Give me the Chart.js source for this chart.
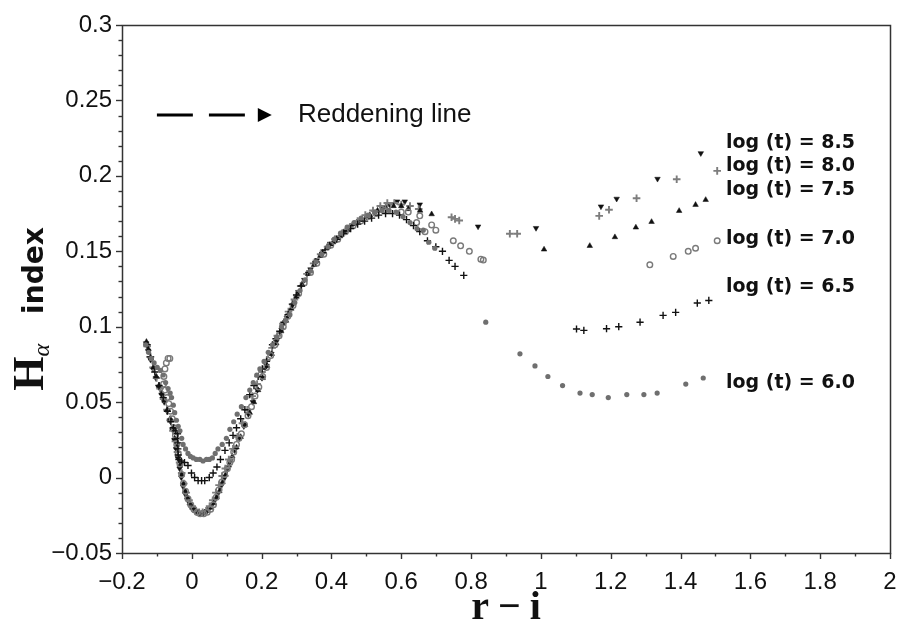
<!DOCTYPE html>
<html><head><meta charset="utf-8">
<script src="https://cdn.jsdelivr.net/npm/chart.js@4.4.1/dist/chart.umd.min.js"></script>
<style>html,body{margin:0;padding:0;background:#fff}#wrap{width:901px;height:628px}</style>
</head><body><div id="wrap"><canvas id="c" width="901" height="628"></canvas></div>
<script>
// ---------- tick labels ----------
const xTickValues=[-0.2,0,0.2,0.4,0.6,0.8,1,1.2,1.4,1.6,1.8,2];
const xTickLabels=['−0.2','0','0.2','0.4','0.6','0.8','1','1.2','1.4','1.6','1.8','2'];
const yTickValues=[-0.05,0,0.05,0.1,0.15,0.2,0.25,0.3];
const yTickLabels=['−0.05','0','0.05','0.1','0.15','0.2','0.25','0.3'];
const xTitle='r − i';
const seriesNames=['log (t) = 6.0','log (t) = 6.5','log (t) = 7.0','log (t) = 7.5','log (t) = 8.0','log (t) = 8.5'];
const reddeningText='Reddening line';

// ---------- series values [r-i, Halpha index] ----------
const logt60=[[-0.132,0.088],[-0.124,0.083],[-0.116,0.079],[-0.108,0.076],[-0.099,0.073],[-0.090,0.071],[-0.082,0.068],[-0.075,0.063],[-0.068,0.059],[-0.062,0.056],[-0.058,0.053],[-0.053,0.048],[-0.049,0.043],[-0.044,0.038],[-0.039,0.034],[-0.034,0.031],[-0.029,0.026],[-0.025,0.022],[-0.018,0.019],[-0.011,0.016],[-0.004,0.014],[0.004,0.013],[0.013,0.012],[0.023,0.012],[0.032,0.011],[0.042,0.012],[0.050,0.012],[0.059,0.013],[0.067,0.016],[0.075,0.019],[0.087,0.022],[0.099,0.026],[0.109,0.032],[0.120,0.037],[0.130,0.042],[0.142,0.047],[0.155,0.053],[0.166,0.058],[0.176,0.063],[0.186,0.068],[0.195,0.072],[0.207,0.077],[0.219,0.083],[0.231,0.088],[0.243,0.093],[0.257,0.100],[0.269,0.104],[0.281,0.108],[0.295,0.116],[0.310,0.124],[0.325,0.131],[0.340,0.137],[0.356,0.143],[0.372,0.148],[0.390,0.153],[0.408,0.158],[0.426,0.162],[0.445,0.166],[0.465,0.169],[0.485,0.172],[0.505,0.174],[0.525,0.176],[0.545,0.177],[0.565,0.177],[0.585,0.176],[0.605,0.173],[0.625,0.169],[0.645,0.165],[0.663,0.164],[0.679,0.156],[0.696,0.152],[0.842,0.103],[0.940,0.082],[0.983,0.074],[1.020,0.067],[1.062,0.061],[1.112,0.056],[1.147,0.055],[1.193,0.053],[1.246,0.055],[1.295,0.055],[1.333,0.056],[1.415,0.062],[1.465,0.066]];
const logt65=[[-0.128,0.088],[-0.118,0.080],[-0.106,0.070],[-0.094,0.061],[-0.082,0.053],[-0.070,0.044],[-0.060,0.037],[-0.052,0.033],[-0.046,0.031],[-0.041,0.029],[-0.041,0.026],[-0.040,0.023],[-0.040,0.019],[-0.039,0.015],[-0.037,0.012],[-0.030,0.011],[-0.021,0.010],[-0.011,0.008],[-0.001,0.003],[0.008,0.000],[0.018,-0.002],[0.028,-0.002],[0.037,-0.002],[0.050,0.000],[0.061,0.003],[0.072,0.007],[0.082,0.012],[0.095,0.018],[0.107,0.023],[0.118,0.028],[0.128,0.033],[0.140,0.039],[0.152,0.045],[0.166,0.055],[0.178,0.061],[0.190,0.067],[0.202,0.072],[0.214,0.077],[0.231,0.088],[0.241,0.092],[0.252,0.097],[0.264,0.103],[0.276,0.108],[0.288,0.115],[0.300,0.121],[0.314,0.127],[0.335,0.136],[0.355,0.143],[0.375,0.149],[0.395,0.154],[0.415,0.158],[0.435,0.162],[0.455,0.165],[0.475,0.168],[0.495,0.170],[0.515,0.172],[0.535,0.174],[0.555,0.175],[0.575,0.175],[0.595,0.174],[0.615,0.171],[0.635,0.167],[0.653,0.163],[0.675,0.157],[0.699,0.153],[0.718,0.150],[0.737,0.144],[0.754,0.140],[0.779,0.134],[1.102,0.0985],[1.123,0.0976],[1.188,0.0987],[1.223,0.100],[1.284,0.103],[1.350,0.1075],[1.386,0.1095],[1.448,0.1157],[1.481,0.1174]];
const logt70=[[-0.063,0.079],[-0.068,0.079],[-0.073,0.076],[-0.077,0.072],[-0.080,0.067],[-0.081,0.062],[-0.077,0.058],[-0.071,0.053],[-0.066,0.049],[-0.061,0.044],[-0.056,0.039],[-0.051,0.033],[-0.047,0.028],[-0.043,0.022],[-0.039,0.016],[-0.034,0.009],[-0.029,0.002],[-0.024,-0.004],[-0.018,-0.009],[-0.011,-0.014],[-0.003,-0.018],[0.006,-0.021],[0.015,-0.023],[0.024,-0.024],[0.034,-0.024],[0.044,-0.023],[0.054,-0.021],[0.062,-0.018],[0.070,-0.013],[0.078,-0.008],[0.086,-0.003],[0.094,0.002],[0.102,0.006],[0.109,0.010],[0.114,0.012],[0.120,0.017],[0.128,0.022],[0.135,0.026],[0.142,0.029],[0.151,0.035],[0.161,0.041],[0.171,0.047],[0.181,0.054],[0.192,0.060],[0.203,0.067],[0.214,0.073],[0.226,0.081],[0.238,0.088],[0.250,0.094],[0.262,0.100],[0.275,0.107],[0.290,0.114],[0.306,0.122],[0.322,0.129],[0.340,0.136],[0.358,0.142],[0.378,0.148],[0.398,0.154],[0.418,0.158],[0.440,0.163],[0.462,0.167],[0.484,0.170],[0.506,0.173],[0.528,0.175],[0.550,0.177],[0.562,0.180],[0.600,0.176],[0.620,0.176],[0.644,0.169],[0.653,0.1735],[0.668,0.163],[0.687,0.1675],[0.699,0.164],[0.749,0.157],[0.770,0.1536],[0.795,0.150],[0.828,0.1448],[0.835,0.1442],[1.312,0.141],[1.379,0.1466],[1.422,0.150],[1.443,0.152],[1.505,0.157]];
const logt75=[[-0.130,0.090],[-0.124,0.085],[-0.117,0.079],[-0.110,0.073],[-0.102,0.067],[-0.094,0.061],[-0.086,0.056],[-0.078,0.051],[-0.070,0.045],[-0.062,0.039],[-0.055,0.033],[-0.049,0.026],[-0.044,0.020],[-0.039,0.014],[-0.034,0.008],[-0.029,0.002],[-0.024,-0.004],[-0.019,-0.009],[-0.013,-0.013],[-0.006,-0.017],[0.002,-0.020],[0.010,-0.022],[0.019,-0.023],[0.028,-0.024],[0.037,-0.023],[0.046,-0.022],[0.055,-0.020],[0.063,-0.017],[0.071,-0.013],[0.079,-0.009],[0.088,-0.003],[0.097,0.002],[0.106,0.008],[0.116,0.014],[0.128,0.020],[0.140,0.027],[0.153,0.035],[0.166,0.043],[0.178,0.050],[0.190,0.058],[0.203,0.066],[0.216,0.074],[0.229,0.082],[0.242,0.089],[0.256,0.097],[0.270,0.104],[0.285,0.112],[0.300,0.120],[0.316,0.128],[0.333,0.135],[0.350,0.141],[0.368,0.147],[0.386,0.152],[0.405,0.156],[0.425,0.160],[0.446,0.164],[0.467,0.168],[0.488,0.171],[0.510,0.174],[0.532,0.177],[0.555,0.179],[0.578,0.180],[0.600,0.180],[0.620,0.178],[0.654,0.177],[0.687,0.1746],[1.009,0.1512],[1.140,0.1536],[1.212,0.1594],[1.272,0.1658],[1.317,0.1695],[1.396,0.1768],[1.443,0.1808],[1.472,0.1841]];
const logt80=[[-0.128,0.087],[-0.120,0.080],[-0.111,0.073],[-0.101,0.066],[-0.091,0.059],[-0.081,0.052],[-0.071,0.045],[-0.062,0.038],[-0.054,0.031],[-0.047,0.024],[-0.041,0.017],[-0.035,0.010],[-0.029,0.003],[-0.023,-0.004],[-0.016,-0.010],[-0.008,-0.015],[0.001,-0.019],[0.011,-0.022],[0.021,-0.023],[0.031,-0.023],[0.041,-0.022],[0.051,-0.019],[0.060,-0.015],[0.069,-0.010],[0.078,-0.005],[0.087,0.001],[0.096,0.006],[0.106,0.012],[0.118,0.019],[0.131,0.027],[0.145,0.036],[0.159,0.045],[0.173,0.054],[0.187,0.062],[0.201,0.070],[0.215,0.078],[0.230,0.086],[0.245,0.094],[0.261,0.102],[0.277,0.110],[0.294,0.118],[0.312,0.127],[0.330,0.135],[0.349,0.142],[0.369,0.148],[0.389,0.153],[0.410,0.158],[0.431,0.162],[0.453,0.166],[0.475,0.170],[0.497,0.174],[0.519,0.177],[0.540,0.180],[0.560,0.182],[0.580,0.182],[0.600,0.181],[0.625,0.180],[0.650,0.178],[0.744,0.1726],[0.754,0.1715],[0.766,0.1704],[0.911,0.1616],[0.932,0.1616],[1.167,0.1735],[1.195,0.1775],[1.274,0.1852],[1.389,0.1978],[1.505,0.2033]];
const logt85=[[-0.131,0.089],[-0.125,0.084],[-0.118,0.078],[-0.111,0.072],[-0.103,0.066],[-0.095,0.060],[-0.087,0.055],[-0.079,0.050],[-0.071,0.044],[-0.063,0.038],[-0.056,0.032],[-0.050,0.025],[-0.045,0.019],[-0.040,0.013],[-0.035,0.006],[-0.030,0.000],[-0.025,-0.006],[-0.019,-0.011],[-0.012,-0.015],[-0.004,-0.019],[0.004,-0.021],[0.013,-0.023],[0.022,-0.024],[0.031,-0.024],[0.040,-0.023],[0.049,-0.021],[0.058,-0.018],[0.066,-0.015],[0.074,-0.011],[0.083,-0.006],[0.092,-0.001],[0.101,0.005],[0.111,0.011],[0.123,0.018],[0.136,0.026],[0.149,0.034],[0.162,0.042],[0.175,0.050],[0.188,0.058],[0.201,0.066],[0.214,0.074],[0.228,0.082],[0.242,0.090],[0.257,0.098],[0.272,0.106],[0.288,0.114],[0.305,0.123],[0.322,0.131],[0.340,0.138],[0.358,0.144],[0.377,0.150],[0.396,0.155],[0.416,0.159],[0.437,0.163],[0.458,0.167],[0.479,0.170],[0.500,0.173],[0.522,0.176],[0.544,0.179],[0.566,0.181],[0.588,0.183],[0.610,0.183],[0.653,0.181],[0.820,0.1664],[0.986,0.1654],[1.172,0.1797],[1.217,0.1848],[1.334,0.198],[1.458,0.215]];

// ---------- annotation anchors (data coords) ----------
const labelAnchorX=1.53;
const labelAnchorY=[0.0627,0.1263,0.1581,0.1903,0.2062,0.222];
const reddening={y:0.2404,dashes:[[-0.100,0.003],[0.049,0.152]],arrow:[0.189,0.229],textX:0.304};

const toPts=a=>a.map(p=>({x:p[0],y:p[1]}));
const BLACK='#111111', GREY='#6f6f6f', GREY2='#7d7d7d';

const decor={id:'decor',
  beforeDatasetsDraw(chart){
    const {ctx,chartArea:a,scales:{x,y}}=chart;
    ctx.save();
    ctx.strokeStyle='#333';ctx.lineWidth=1.4;
    for(let i=0;i<=35;i++){
      const v=-0.05+i*0.01, py=Math.round(y.getPixelForValue(v))+0.5, major=(i%5===0);
      ctx.beginPath();ctx.moveTo(a.left-(major?6:3.5),py);ctx.lineTo(a.left,py);ctx.stroke();
    }
    for(let i=0;i<=22;i++){
      const v=-0.2+i*0.1, px=Math.round(x.getPixelForValue(v))+0.5, major=(i%2===0);
      ctx.beginPath();ctx.moveTo(px,a.bottom);ctx.lineTo(px,a.bottom+(major?6:3.5));ctx.stroke();
    }
    ctx.lineWidth=1.5;
    ctx.strokeRect(Math.round(a.left)+0.5,Math.round(a.top)+0.5,Math.round(a.right-a.left),Math.round(a.bottom-a.top));
    ctx.restore();
  },
  afterDraw(chart){
    const {ctx,chartArea:a,scales:{x,y}}=chart;
    ctx.save();
    // reddening legend
    const ry=y.getPixelForValue(reddening.y);
    ctx.strokeStyle='#000';ctx.lineWidth=3;
    reddening.dashes.forEach(d=>{ctx.beginPath();ctx.moveTo(x.getPixelForValue(d[0]),ry);ctx.lineTo(x.getPixelForValue(d[1]),ry);ctx.stroke();});
    const ax0=x.getPixelForValue(reddening.arrow[0]), ax1=x.getPixelForValue(reddening.arrow[1]);
    ctx.fillStyle='#000';ctx.beginPath();ctx.moveTo(ax0,ry-7);ctx.lineTo(ax1,ry);ctx.lineTo(ax0,ry+7);ctx.closePath();ctx.fill();
    ctx.fillStyle='#111';ctx.font='26px "Liberation Sans", Arial, sans-serif';ctx.textAlign='left';ctx.textBaseline='middle';
    ctx.fillText(reddeningText,x.getPixelForValue(reddening.textX),ry);
    // series labels
    ctx.font='bold 19px "DejaVu Sans", sans-serif';
    seriesNames.forEach((n,i)=>ctx.fillText(n,x.getPixelForValue(labelAnchorX),y.getPixelForValue(labelAnchorY[i])));
    // x title
    ctx.textBaseline='alphabetic';
    ctx.font='bold 40px "Liberation Serif", "DejaVu Serif", serif';
    const parts=xTitle.split(' ');
    const gap=9;
    const ws=parts.map(p=>ctx.measureText(p).width);
    const tot=ws.reduce((s,w)=>s+w,0)+gap*(parts.length-1);
    let cx=(a.left+a.right)/2-tot/2;
    parts.forEach((p,i)=>{ctx.fillText(p,cx,619);cx+=ws[i]+gap;});
    // y title
    ctx.translate(43,309);ctx.rotate(-Math.PI/2);
    const fH='bold 44px "Liberation Serif", "DejaVu Serif", serif';
    const fA='italic 24px "Liberation Serif", "DejaVu Serif", serif';
    const fI='bold 28px "DejaVu Sans", sans-serif';
    ctx.font=fH;const wH=ctx.measureText('H').width;
    ctx.font=fA;const wA=ctx.measureText('α').width;
    ctx.font=fI;const wI=ctx.measureText('index').width;
    const g2=30;
    const T=wH+wA+g2+wI;
    let lx=-T/2;
    ctx.font=fH;ctx.fillText('H',lx,0);lx+=wH;
    ctx.font=fA;ctx.fillText('α',lx,6);lx+=wA+g2;
    ctx.font=fI;ctx.fillText('index',lx,0);
    ctx.restore();
  }
};

new Chart(document.getElementById('c'),{
  type:'scatter',
  data:{datasets:[
    {label:seriesNames[0],data:toPts(logt60),pointStyle:'circle',pointRadius:2.6,backgroundColor:GREY,borderColor:GREY,borderWidth:0},
    {label:seriesNames[1],data:toPts(logt65),pointStyle:'cross',pointRadius:3.6,backgroundColor:BLACK,borderColor:BLACK,borderWidth:1.4},
    {label:seriesNames[2],data:toPts(logt70),pointStyle:'circle',pointRadius:2.8,backgroundColor:'rgba(255,255,255,0)',borderColor:'#7a7a7a',borderWidth:1.4},
    {label:seriesNames[3],data:toPts(logt75),pointStyle:'triangle',pointRadius:3.2,backgroundColor:BLACK,borderColor:BLACK,borderWidth:0.5},
    {label:seriesNames[4],data:toPts(logt80),pointStyle:'cross',pointRadius:3.8,backgroundColor:GREY2,borderColor:GREY2,borderWidth:1.9},
    {label:seriesNames[5],data:toPts(logt85),pointStyle:'triangle',pointRotation:180,pointRadius:3.2,backgroundColor:BLACK,borderColor:BLACK,borderWidth:0.5}
  ]},
  options:{
    responsive:false,animation:false,events:[],
    layout:{padding:{top:25,right:11,left:0,bottom:0}},
    plugins:{legend:{display:false},tooltip:{enabled:false}},
    scales:{
      x:{type:'linear',min:-0.2,max:2,
        afterBuildTicks:s=>{s.ticks=xTickValues.map(v=>({value:v}));},
        afterFit:s=>{s.height=75;s.paddingLeft=0;s.paddingRight=0;},
        grid:{display:false,drawTicks:false},border:{display:false},
        ticks:{autoSkip:false,maxRotation:0,padding:15,color:'#111',font:{family:'"Liberation Sans", Arial, sans-serif',size:24},callback:(v,i)=>xTickLabels[i]}},
      y:{type:'linear',min:-0.05,max:0.3,
        afterBuildTicks:s=>{s.ticks=yTickValues.map(v=>({value:v}));},
        afterFit:s=>{s.width=122;s.paddingTop=0;s.paddingBottom=0;},
        grid:{display:false,drawTicks:false},border:{display:false},
        ticks:{autoSkip:false,padding:10,color:'#111',font:{family:'"Liberation Sans", Arial, sans-serif',size:24},callback:(v,i)=>yTickLabels[i]}}
    }
  },
  plugins:[decor]
});
</script></body></html>
